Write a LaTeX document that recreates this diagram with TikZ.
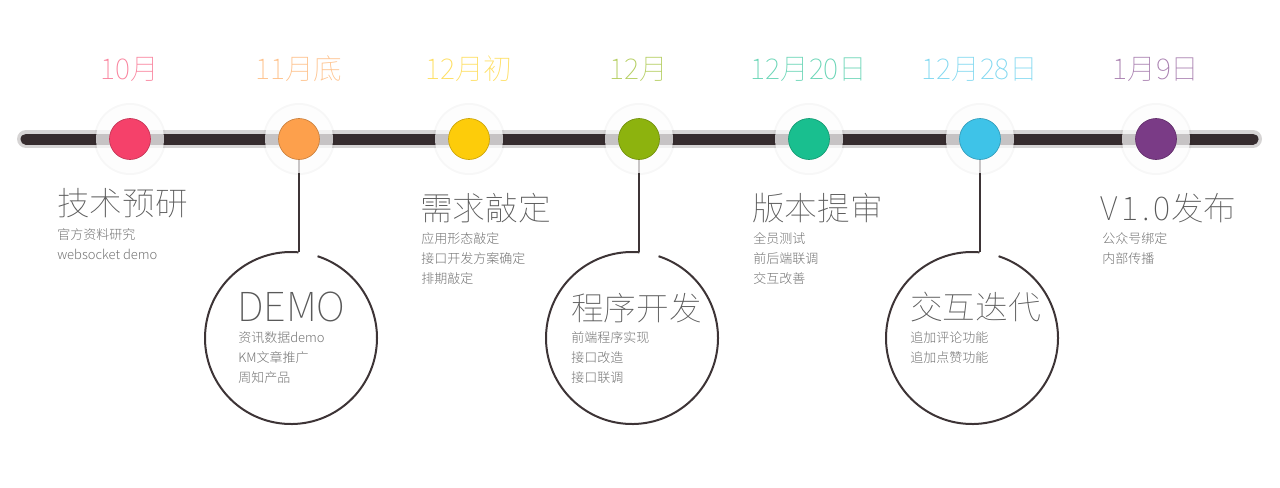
\documentclass[tikz,border=0pt]{standalone}
\usepackage{fontspec}
\setmainfont{Noto Sans CJK SC}[UprightFont = * Light]
\newfontfamily\thinface{Noto Sans CJK SC}[UprightFont = * Thin]

\definecolor{tone1}{HTML}{F5416A}
\definecolor{tone2}{HTML}{FDA04C}
\definecolor{tone3}{HTML}{FDCC0A}
\definecolor{tone4}{HTML}{8DB30E}
\definecolor{tone5}{HTML}{19BF8F}
\definecolor{tone6}{HTML}{3EC3E8}
\definecolor{tone7}{HTML}{7A3B86}
\definecolor{rail}{HTML}{362C2E}
\definecolor{railedge}{HTML}{D6D4D4}
\definecolor{ink}{HTML}{3D3436}

\pgfdeclarelayer{back}
\pgfsetlayers{back,main}

\begin{document}
\begin{tikzpicture}[x = 0.75pt, y = -0.75pt,
	dot/.style = {circle, minimum size = 30.75pt, inner sep = 0pt, line width = 0.5pt},
	datelabel/.style = {inner sep = 0pt, font = \thinface\fontsize{21.5pt}{21.5pt}\selectfont},
	headline/.style = {anchor = west, inner sep = 0pt, text = black!65, font = \thinface\fontsize{24.5pt}{24.5pt}\selectfont},
	memo/.style = {anchor = north west, inner sep = 0pt, align = left, text = black!55, font = \fontsize{9.75pt}{15pt}\selectfont},
	spot/.style = {circle, minimum size = 129pt, inner sep = 0pt, outer sep = 0pt},
	stem/.style = {ink, line width = 1.9pt},
	ring/.style = {ink, line width = 1.5pt}]

	\useasboundingbox (0, 0) rectangle (1280, 487);

	% Milestones on the rail

	\foreach \i/\x/\when in {1/130/10月, 2/299/11月底, 3/469/12月初, 4/639/12月, 5/809/12月20日, 6/980/12月28日, 7/1156/1月9日}
	{
		\fill [black, opacity = 0.03] (\x, 139) circle [radius = 27pt];
		\fill [white, fill opacity = 0.72] (\x, 139) circle [radius = 25.5pt];
		\node [dot, fill = tone\i, draw = tone\i!80!black] (d\i) at (\x, 139) {};
		\node [datelabel, text = tone\i!65] (m\i) at (\x, 69) {\when};
	}

	% Texts above the line

	\node [headline] (h1) at (57, 203) {技术预研};
	\node [memo] (s1) at (57, 228.5) {官方资料研究\\websocket demo};

	\node [headline] (h3) at (420, 208) {需求敲定};
	\node [memo] (s3) at (421, 232.5) {应用形态敲定\\接口开发方案确定\\排期敲定};

	\node [headline] (h5) at (752, 208) {版本提审};
	\node [memo] (s5) at (753, 232.5) {全员测试\\前后端联调\\交互改善};

	\node [headline] (h7) at (1100, 208) {{\addfontfeature{LetterSpace = 12}V1.0}发布};
	\node [memo] (s7) at (1102, 232.5) {公众号绑定\\内部传播};

	% Circles below the line

	\node [spot] (r2) at (291, 338) {};
	\node [headline, font = \thinface\fontsize{30pt}{30pt}\selectfont] (h2) at (237, 307) {DEMO};
	\node [memo] (s2) at (238, 331.5) {资讯数据demo\\KM文章推广\\周知产品};

	\node [spot] (r4) at (632, 338) {};
	\node [headline] (h4) at (571, 308) {程序开发};
	\node [memo] (s4) at (571, 331.5) {前端程序实现\\接口改造\\接口联调};

	\node [spot] (r6) at (972, 338) {};
	\node [headline] (h6) at (910, 307) {交互迭代};
	\node [memo] (s6) at (910, 331.5) {追加评论功能\\追加点赞功能};

	\foreach \k in {2, 4, 6}
		\draw [ring] (r\k.85) arc [start angle = 85, end angle = 432, radius = 64.5pt];

	% Rail and stems behind the halos

	\begin{pgfonlayer}{back}
		\coordinate (west end) at (26, 139);
		\coordinate (east end) at (1253, 139);
		\draw [railedge, line width = 13.5pt, line cap = round] (west end) -- (east end);
		\draw [rail, line width = 8.25pt, line cap = round] (west end) -- (east end);
		\foreach \k in {2, 4, 6}
			\draw [stem] (d\k.south) -- (d\k.south |- r\k.85);
	\end{pgfonlayer}

\end{tikzpicture}
\end{document}
